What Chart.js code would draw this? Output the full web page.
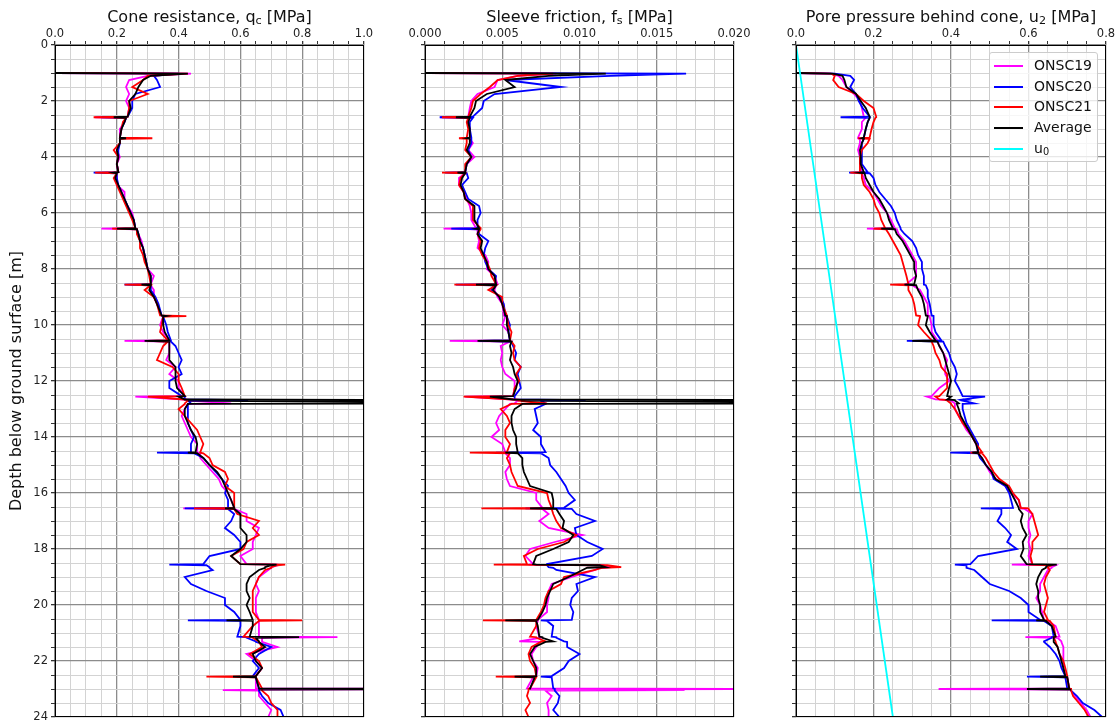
<!DOCTYPE html>
<html>
<head>
<meta charset="utf-8">
<script src="https://cdn.jsdelivr.net/npm/chart.js@4.4.1/dist/chart.umd.min.js"></script>
<style>
  body { margin: 0; background: #fff; width: 1118px; height: 720px; overflow: hidden; position: relative; font-family: "DejaVu Sans", sans-serif; }
  canvas { position: absolute; top: 0; }
  .title { position: absolute; top: 8px; font-size: 16px; line-height: 18px; color: #111; white-space: nowrap; transform: translateX(-50%); }
  .title sub, .legend sub { font-size: 70%; vertical-align: -2px; line-height: 0; }
  .legend { position: absolute; left: 989px; top: 52px; width: 107px; height: 106px; padding-top: 2px;
    background: rgba(255,255,255,0.8); border: 1px solid #cccccc; border-radius: 3px; font-size: 14px; color: #111; }
  .legend .row { height: 20.7px; line-height: 20.7px; white-space: nowrap; }
  .legend .sw { display: inline-block; width: 29px; height: 2px; margin: 0 11px 0 4px; vertical-align: middle; }
</style>
</head>
<body>
<canvas id="qcChart" width="380" height="720" style="left:0px"></canvas>
<canvas id="fsChart" width="380" height="720" style="left:370px"></canvas>
<canvas id="u2Chart" width="377" height="720" style="left:741px"></canvas>

<div class="title" style="left:209.5px">Cone resistance, q<sub>c</sub> [MPa]</div>
<div class="title" style="left:579.5px">Sleeve friction, f<sub>s</sub> [MPa]</div>
<div class="title" style="left:951px">Pore pressure behind cone, u<sub>2</sub> [MPa]</div>

<div class="legend">
  <div class="row"><span class="sw" style="background:#ff00ff"></span>ONSC19</div>
  <div class="row"><span class="sw" style="background:#0000ff"></span>ONSC20</div>
  <div class="row"><span class="sw" style="background:#ff0000"></span>ONSC21</div>
  <div class="row"><span class="sw" style="background:#000000"></span>Average</div>
  <div class="row"><span class="sw" style="background:#00ffff"></span>u<sub>0</sub></div>
</div>

<script>
// ----------- Data -----------
const depth = [
  1.0, 1.02, 1.1, 1.25, 1.5, 1.75, 2.0, 2.25, 2.56, 2.58, 2.6, 2.75,
  3.0, 3.31, 3.33, 3.35, 3.5, 3.75, 4.0, 4.25, 4.54, 4.56, 4.58, 4.75,
  5.0, 5.25, 5.5, 5.75, 6.0, 6.25, 6.54, 6.56, 6.58, 6.75,
  7.0, 7.25, 7.5, 7.75, 8.0, 8.25, 8.54, 8.56, 8.58, 8.75,
  9.0, 9.25, 9.66, 9.68, 9.7, 10.0, 10.25, 10.55, 10.57, 10.59, 10.75,
  11.0, 11.25, 11.5, 11.75, 12.0, 12.25, 12.54, 12.56, 12.66, 12.68, 12.7, 12.8, 12.82,
  13.0, 13.25, 13.5, 13.75, 14.0, 14.25, 14.54, 14.56, 14.58, 14.75,
  15.0, 15.25, 15.5, 15.75, 16.0, 16.25, 16.53, 16.55, 16.57, 16.75,
  17.0, 17.25, 17.5, 17.75, 18.0, 18.25, 18.54, 18.56, 18.58, 18.65, 18.67, 18.75,
  19.0, 19.25, 19.5, 19.75, 20.0, 20.25, 20.53, 20.55, 20.57, 20.75,
  21.13, 21.15, 21.17, 21.3, 21.32, 21.5, 21.75, 22.0, 22.25, 22.54, 22.56, 22.58, 22.98,
  23.0, 23.02, 23.04, 23.06, 23.25, 23.5, 23.75, 24.0
];

// cone resistance qc [MPa]
const qc19 = [
  0, 0.44, 0.3, 0.24, 0.23, 0.24, 0.23, 0.24, 0.235, 0.13, 0.23, 0.225,
  0.21, 0.21, 0.21, 0.21, 0.21, 0.2, 0.21, 0.2, 0.205, 0.2, 0.2, 0.2,
  0.2, 0.225, 0.225, 0.235, 0.25, 0.255, 0.26, 0.15, 0.265, 0.27,
  0.28, 0.285, 0.29, 0.295, 0.3, 0.32, 0.31, 0.29, 0.31, 0.32,
  0.32, 0.33, 0.345, 0.35, 0.35, 0.34, 0.35, 0.37, 0.225, 0.37, 0.37,
  0.37, 0.36, 0.39, 0.37, 0.4, 0.4, 0.42, 0.26, 0.42, 0.45, 0.43, 0.57, 0.43,
  0.42, 0.41, 0.42, 0.43, 0.44, 0.46, 0.46, 0.46, 0.47, 0.47,
  0.49, 0.51, 0.53, 0.54, 0.56, 0.57, 0.58, 0.415, 0.58, 0.62,
  0.62, 0.66, 0.65, 0.64, 0.64, 0.6, 0.62, 0.72, 0.72, 0.7, 0.7, 0.69,
  0.66, 0.65, 0.66, 0.65, 0.65, 0.65, 0.66, 0.66, 0.66, 0.66,
  0.66, 0.914, 0.67, 0.67, 0.67, 0.72, 0.62, 0.65, 0.67, 0.65, 0.64, 0.65, 0.65,
  1.5, 0.66, 0.543, 0.66, 0.66, 0.68, 0.7, 0.69
];
const qc20 = [
  0, 0.4, 0.32, 0.33, 0.34, 0.26, 0.25, 0.25, 0.235, 0.15, 0.23, 0.225,
  0.215, 0.21, 0.21, 0.21, 0.21, 0.205, 0.205, 0.2, 0.205, 0.125, 0.2, 0.2,
  0.205, 0.215, 0.225, 0.235, 0.245, 0.255, 0.26, 0.26, 0.265, 0.27,
  0.275, 0.285, 0.29, 0.295, 0.3, 0.31, 0.31, 0.225, 0.31, 0.31,
  0.325, 0.335, 0.345, 0.35, 0.35, 0.36, 0.365, 0.375, 0.37, 0.375, 0.39,
  0.4, 0.41, 0.4, 0.41, 0.37, 0.37, 0.41, 0.42, 0.42, 0.625, 0.43, 0.44, 0.43,
  0.43, 0.43, 0.43, 0.44, 0.45, 0.44, 0.44, 0.33, 0.45, 0.48,
  0.5, 0.52, 0.54, 0.56, 0.55, 0.56, 0.56, 0.42, 0.56, 0.58,
  0.57, 0.55, 0.58, 0.6, 0.6, 0.5, 0.48, 0.37, 0.49, 0.5, 0.5, 0.51,
  0.42, 0.44, 0.49, 0.55, 0.55, 0.58, 0.6, 0.43, 0.6, 0.6,
  0.59, 0.62, 0.62, 0.65, 0.65, 0.7, 0.66, 0.64, 0.66, 0.64, 0.64, 0.65, 0.66,
  0.66, 0.66, 0.66, 0.66, 0.67, 0.69, 0.73, 0.74
];
const qc21 = [
  0, 0.43, 0.3, 0.285, 0.25, 0.3, 0.24, 0.24, 0.235, 0.125, 0.23, 0.22,
  0.215, 0.21, 0.315, 0.21, 0.21, 0.19, 0.205, 0.2, 0.205, 0.13, 0.2, 0.19,
  0.2, 0.21, 0.22, 0.23, 0.24, 0.25, 0.26, 0.185, 0.265, 0.265,
  0.275, 0.275, 0.285, 0.29, 0.3, 0.305, 0.31, 0.225, 0.31, 0.29,
  0.32, 0.33, 0.34, 0.425, 0.35, 0.345, 0.34, 0.365, 0.3, 0.365, 0.35,
  0.34, 0.33, 0.38, 0.4, 0.4, 0.41, 0.42, 0.3, 0.42, 0.43, 0.43, 0.42, 0.42,
  0.4, 0.42, 0.44, 0.46, 0.47, 0.48, 0.47, 0.47, 0.48, 0.5,
  0.51, 0.55, 0.56, 0.55, 0.58, 0.58, 0.58, 0.45, 0.58, 0.59,
  0.66, 0.64, 0.66, 0.62, 0.61, 0.57, 0.6, 0.745, 0.72, 0.7, 0.7, 0.68,
  0.66, 0.65, 0.64, 0.64, 0.64, 0.64, 0.66, 0.8, 0.66, 0.64,
  0.61, 0.64, 0.64, 0.66, 0.66, 0.67, 0.63, 0.66, 0.67, 0.65, 0.49, 0.65, 0.67,
  0.67, 0.67, 0.67, 0.67, 0.69, 0.7, 0.72, 0.72
];
const qcAvg = [
  0, 0.43, 0.31, 0.285, 0.27, 0.26, 0.24, 0.245, 0.235, 0.19, 0.23, 0.225,
  0.215, 0.21, 0.23, 0.21, 0.21, 0.2, 0.205, 0.2, 0.205, 0.19, 0.2, 0.195,
  0.205, 0.215, 0.225, 0.235, 0.245, 0.255, 0.26, 0.2, 0.265, 0.27,
  0.275, 0.285, 0.29, 0.295, 0.3, 0.31, 0.31, 0.28, 0.31, 0.305,
  0.32, 0.33, 0.345, 0.36, 0.35, 0.35, 0.355, 0.37, 0.29, 0.37, 0.37,
  0.37, 0.37, 0.39, 0.39, 0.39, 0.395, 0.42, 0.4, 0.42, 1.5, 0.43, 1.5, 0.43,
  0.42, 0.42, 0.43, 0.44, 0.455, 0.46, 0.455, 0.43, 0.46, 0.48,
  0.5, 0.525, 0.54, 0.55, 0.56, 0.57, 0.58, 0.55, 0.58, 0.6,
  0.6, 0.6, 0.62, 0.62, 0.6, 0.57, 0.6, 0.717, 0.7, 0.68, 0.68, 0.66,
  0.63, 0.62, 0.62, 0.63, 0.62, 0.63, 0.64, 0.555, 0.64, 0.64,
  0.63, 0.79, 0.65, 0.66, 0.66, 0.68, 0.64, 0.65, 0.67, 0.65, 0.576, 0.65, 0.66,
  1.5, 0.66, null, null, null, null, null, null
];

// sleeve friction fs [MPa]
const fs19 = [
  0, 0.0085, 0.006, 0.0047, 0.0045, 0.0034, 0.003, 0.0029, 0.0028, 0.001, 0.0029, 0.0028,
  0.0029, 0.0029, 0.0029, 0.0029, 0.0031, 0.0028, 0.0032, 0.0027, 0.0026, 0.0024, 0.0026, 0.0022,
  0.0022, 0.0025, 0.0027, 0.0029, 0.003, 0.003, 0.0033, 0.0012, 0.0034, 0.0034,
  0.0035, 0.0034, 0.0039, 0.0041, 0.004, 0.0045, 0.0047, 0.0046, 0.0046, 0.0045,
  0.0047, 0.005, 0.0051, 0.0052, 0.0052, 0.005, 0.0054, 0.0055, 0.0016, 0.0055, 0.0049,
  0.005, 0.0049, 0.005, 0.0052, 0.0058, 0.0058, 0.0057, 0.0026, 0.0057, 0.0063, 0.006, 0.0058, 0.0055,
  0.0052, 0.0048, 0.0046, 0.0048, 0.0043, 0.005, 0.0052, 0.0052, 0.0052, 0.0055,
  0.0055, 0.0052, 0.0053, 0.0055, 0.0072, 0.0072, 0.0076, 0.0076, 0.0076, 0.008,
  0.0074, 0.008, 0.0102, 0.0084, 0.0068, 0.0065, 0.007, 0.0067, 0.0115, 0.012, 0.0113, 0.011,
  0.0095, 0.0082, 0.008, 0.008, 0.0079, 0.0079, 0.0073, 0.0073, 0.0073, 0.0072,
  0.0074, 0.0075, 0.0075, 0.0061, 0.0074, 0.0072, 0.0069, 0.007, 0.0073, 0.0072, 0.007, 0.007, 0.0066,
  0.025, 0.0068, 0.0168, 0.0078, 0.0082, 0.0079, 0.008, 0.008
];
const fs20 = [
  0, 0.0169, 0.012, 0.0052, 0.0088, 0.0045, 0.0038, 0.0037, 0.0031, 0.00095, 0.0031, 0.0029,
  0.0029, 0.003, 0.003, 0.003, 0.003, 0.0028, 0.003, 0.0027, 0.0026, 0.0013, 0.0027, 0.0028,
  0.0024, 0.0026, 0.0028, 0.0035, 0.0036, 0.0034, 0.0034, 0.0017, 0.0035, 0.0035,
  0.0041, 0.0039, 0.0038, 0.0039, 0.0041, 0.0046, 0.0045, 0.002, 0.0045, 0.0043,
  0.0049, 0.0051, 0.0052, 0.0053, 0.0053, 0.0055, 0.0054, 0.0055, 0.0035, 0.0056, 0.0057,
  0.0059, 0.0058, 0.0062, 0.006, 0.0061, 0.0062, 0.0058, 0.0058, 0.0058, 0.0104, 0.0075, 0.0078, 0.0078,
  0.0071, 0.0072, 0.0073, 0.007, 0.0075, 0.0075, 0.0078, 0.0046, 0.0075, 0.008,
  0.0081, 0.0085, 0.0088, 0.0091, 0.0093, 0.0097, 0.009, 0.0065, 0.0095, 0.0098,
  0.011, 0.0097, 0.0098, 0.0105, 0.0115, 0.0108, 0.0079, 0.0079, 0.0079, 0.008, 0.0083, 0.0085,
  0.011, 0.0098, 0.0099, 0.0095, 0.0094, 0.0096, 0.0095, 0.0075, 0.0079, 0.0083,
  0.0082, 0.0085, 0.0085, 0.009, 0.0092, 0.0092, 0.01, 0.0093, 0.009, 0.0082, 0.0075, 0.0082, 0.0083,
  0.0084, 0.0084, 0.0084, 0.0084, 0.0087, 0.0086, 0.0083, 0.0087
];
const fs21 = [
  0, 0.0083, 0.006, 0.0047, 0.0042, 0.0036, 0.0031, 0.003, 0.0028, 0.0011, 0.0028, 0.0027,
  0.0028, 0.0027, 0.0022, 0.0027, 0.0027, 0.0026, 0.003, 0.0026, 0.0026, 0.0011, 0.0026, 0.0023,
  0.0022, 0.0025, 0.0026, 0.0031, 0.0031, 0.0031, 0.0036, 0.0036, 0.0036, 0.0034,
  0.0036, 0.0035, 0.0037, 0.004, 0.0042, 0.0043, 0.0046, 0.0019, 0.0046, 0.0041,
  0.005, 0.005, 0.0053, 0.0053, 0.0053, 0.0054, 0.0056, 0.0055, 0.0055, 0.0056, 0.0058,
  0.0057, 0.0058, 0.0062, 0.0059, 0.0061, 0.0058, 0.0057, 0.0025, 0.0057, 0.0065, 0.006, 0.0079, 0.0056,
  0.0049, 0.0053, 0.0055, 0.0052, 0.0052, 0.0055, 0.0053, 0.0029, 0.0055, 0.0053,
  0.0055, 0.0056, 0.0058, 0.006, 0.0079, 0.008, 0.0082, 0.00365, 0.0082, 0.0083,
  0.0085, 0.0088, 0.0098, 0.009, 0.0073, 0.0064, 0.0066, 0.00445, 0.0118, 0.0127, 0.0115, 0.011,
  0.009, 0.0088, 0.008, 0.0078, 0.0077, 0.0075, 0.0072, 0.00375, 0.0072, 0.0072,
  0.0068, 0.0072, 0.0072, 0.0078, 0.0075, 0.0069, 0.0067, 0.0068, 0.0071, 0.0072, 0.00458, 0.0072, 0.0068,
  0.0067, 0.0067, 0.0067, 0.0067, 0.0066, 0.0068, 0.0065, 0.0067
];
const fsAvg = [
  0, 0.0117, 0.008, 0.0052, 0.0058, 0.004, 0.0033, 0.0032, 0.0029, 0.002, 0.0029, 0.0028,
  0.0029, 0.0029, 0.0027, 0.0029, 0.0029, 0.0027, 0.003, 0.0027, 0.0026, 0.0021, 0.0026, 0.0024,
  0.0023, 0.0025, 0.0026, 0.0032, 0.0032, 0.0032, 0.0035, 0.0033, 0.0035, 0.0034,
  0.0037, 0.0036, 0.0038, 0.004, 0.0041, 0.0045, 0.0046, 0.0033, 0.0046, 0.0044,
  0.0048, 0.005, 0.0052, 0.0053, 0.0053, 0.0053, 0.0054, 0.0055, 0.0034, 0.0056, 0.0055,
  0.0056, 0.0055, 0.0057, 0.0058, 0.006, 0.0059, 0.0057, 0.0042, 0.0057, 0.03, 0.0062, 0.03, 0.0063,
  0.0058, 0.0056, 0.0056, 0.0057, 0.0059, 0.0059, 0.006, 0.0052, 0.006, 0.0063,
  0.0063, 0.0064, 0.0066, 0.0068, 0.0082, 0.0083, 0.0083, 0.0068, 0.0085, 0.0087,
  0.009, 0.0089, 0.0096, 0.0093, 0.0083, 0.0072, 0.007, 0.0072, 0.0113, 0.0117, 0.0105, 0.0102,
  0.0093, 0.0083, 0.0081, 0.0079, 0.0078, 0.0076, 0.0073, 0.0052, 0.0072, 0.0073,
  0.0074, 0.0076, 0.0076, 0.0083, 0.0078, 0.0071, 0.0068, 0.007, 0.0072, 0.0072, 0.0058, 0.0071, 0.0068,
  0.0068, 0.0068, null, null, null, null, null, null
];

// pore pressure u2 [MPa]
const u19 = [
  0, 0.09, 0.11, 0.12, 0.13, 0.15, 0.165, 0.17, 0.175, 0.175, 0.18, 0.17,
  0.17, 0.16, 0.16, 0.165, 0.165, 0.16, 0.165, 0.165, 0.17, 0.17, 0.17, 0.175,
  0.18, 0.2, 0.21, 0.22, 0.235, 0.245, 0.255, 0.183, 0.26, 0.265,
  0.28, 0.29, 0.3, 0.31, 0.31, 0.31, 0.285, 0.28, 0.3, 0.32,
  0.33, 0.34, 0.34, 0.345, 0.345, 0.35, 0.35, 0.365, 0.365, 0.365, 0.37,
  0.38, 0.39, 0.385, 0.385, 0.395, 0.37, 0.35, 0.338, 0.36, 0.4, 0.4, 0.41, 0.41,
  0.41, 0.42, 0.43, 0.44, 0.455, 0.465, 0.47, 0.47, 0.47, 0.48,
  0.49, 0.5, 0.515, 0.54, 0.555, 0.575, 0.58, 0.58, 0.59, 0.61,
  0.6, 0.6, 0.605, 0.6, 0.605, 0.6, 0.61, 0.557, 0.67, 0.66, 0.66, 0.65,
  0.64, 0.63, 0.63, 0.62, 0.63, 0.635, 0.64, 0.64, 0.65, 0.67,
  0.68, 0.592, 0.675, 0.685, 0.685, 0.69, 0.69, 0.69, 0.69, 0.695, 0.695, 0.7, 0.705,
  0.368, 0.71, 0.71, 0.71, 0.72, 0.735, 0.75, 0.76
];
const u20 = [
  0, 0.1, 0.14, 0.15, 0.14, 0.155, 0.162, 0.172, 0.19, 0.115, 0.19, 0.185,
  0.18, 0.175, 0.175, 0.175, 0.17, 0.17, 0.17, 0.17, 0.185, 0.137, 0.19, 0.2,
  0.205, 0.215, 0.23, 0.245, 0.255, 0.26, 0.27, 0.27, 0.27, 0.28,
  0.3, 0.31, 0.315, 0.325, 0.325, 0.33, 0.33, 0.33, 0.335, 0.34,
  0.34, 0.345, 0.35, 0.355, 0.355, 0.355, 0.36, 0.375, 0.286, 0.38, 0.385,
  0.395, 0.4, 0.41, 0.415, 0.41, 0.42, 0.43, 0.488, 0.43, 0.44, 0.43, 0.46, 0.43,
  0.43, 0.435, 0.44, 0.45, 0.46, 0.47, 0.47, 0.398, 0.47, 0.475,
  0.49, 0.505, 0.51, 0.54, 0.55, 0.555, 0.56, 0.477, 0.53, 0.53,
  0.52, 0.54, 0.555, 0.545, 0.57, 0.47, 0.45, 0.41, 0.44, 0.44, 0.44, 0.46,
  0.48, 0.5, 0.55, 0.58, 0.6, 0.6, 0.63, 0.505, 0.64, 0.66,
  0.665, 0.66, 0.66, 0.64, 0.64, 0.655, 0.67, 0.68, 0.685, 0.695, 0.596, 0.695, 0.7,
  0.71, 0.71, 0.71, 0.71, 0.725, 0.74, 0.77, 0.79
];
const u21 = [
  0, 0.09, 0.1, 0.096, 0.11, 0.155, 0.175, 0.2, 0.207, 0.207, 0.205, 0.2,
  0.195, 0.19, 0.16, 0.19, 0.185, 0.17, 0.165, 0.165, 0.165, 0.14, 0.17, 0.17,
  0.175, 0.19, 0.2, 0.205, 0.215, 0.22, 0.23, 0.2, 0.232, 0.24,
  0.25, 0.26, 0.27, 0.275, 0.28, 0.285, 0.29, 0.243, 0.29, 0.29,
  0.3, 0.305, 0.31, 0.32, 0.32, 0.315, 0.33, 0.35, 0.35, 0.35, 0.355,
  0.36, 0.37, 0.375, 0.39, 0.39, 0.39, 0.37, 0.36, 0.37, 0.39, 0.39, 0.4, 0.4,
  0.41, 0.42, 0.43, 0.445, 0.455, 0.465, 0.48, 0.45, 0.48, 0.49,
  0.5, 0.51, 0.525, 0.55, 0.56, 0.575, 0.58, 0.6, 0.6, 0.61,
  0.615, 0.62, 0.625, 0.61, 0.61, 0.605, 0.61, 0.6, 0.66, 0.65, 0.65, 0.655,
  0.645, 0.64, 0.645, 0.65, 0.645, 0.64, 0.65, 0.64, 0.655, 0.665,
  0.67, 0.665, 0.665, 0.67, 0.67, 0.675, 0.68, 0.69, 0.695, 0.7, 0.7, 0.7, 0.705,
  0.71, 0.71, 0.71, 0.71, 0.715, 0.73, 0.745, 0.755
];
const uAvg = [
  0, 0.095, 0.12, 0.125, 0.13, 0.155, 0.167, 0.18, 0.19, 0.19, 0.19, 0.185,
  0.18, 0.175, 0.17, 0.175, 0.17, 0.165, 0.167, 0.167, 0.175, 0.165, 0.177, 0.18,
  0.19, 0.2, 0.215, 0.225, 0.235, 0.24, 0.25, 0.22, 0.255, 0.26,
  0.275, 0.285, 0.295, 0.305, 0.305, 0.31, 0.305, 0.28, 0.31, 0.315,
  0.325, 0.33, 0.335, 0.34, 0.34, 0.335, 0.345, 0.36, 0.3, 0.365, 0.37,
  0.38, 0.385, 0.39, 0.395, 0.4, 0.395, 0.39, 0.4, 0.39, 0.41, 0.41, 0.42, 0.415,
  0.42, 0.425, 0.435, 0.445, 0.455, 0.465, 0.47, 0.455, 0.47, 0.48,
  0.49, 0.505, 0.515, 0.545, 0.555, 0.565, 0.575, 0.575, 0.575, 0.585,
  0.58, 0.585, 0.595, 0.585, 0.587, 0.58, 0.595, 0.673, 0.65, 0.645, 0.645, 0.635,
  0.625, 0.62, 0.625, 0.625, 0.63, 0.63, 0.64, 0.62, 0.645, 0.66,
  0.67, 0.665, 0.665, 0.665, 0.665, 0.675, 0.68, 0.685, 0.69, 0.695, 0.63, 0.7, 0.705,
  0.596, 0.71, null, null, null, null, null, null
];

// hydrostatic pore pressure
const u0Depth = [0, 24];
const u0 = [0, 0.25];

// labelled (major) ticks
const depthMajor = [0, 2, 4, 6, 8, 10, 12, 14, 16, 18, 20, 22, 24];
const qcMajor = [0, 0.2, 0.4, 0.6, 0.8, 1.0];
const fsMajor = [0, 0.005, 0.01, 0.015, 0.02];
const u2Major = [0, 0.2, 0.4, 0.6, 0.8];

const FONT = "DejaVu Sans";
const MAJOR_GRID = "#8c8c8c";
const MINOR_GRID = "#d3d3d3";

function isMajor(v, list) {
  return list.some(m => Math.abs(m - v) < 1e-9);
}

function pts(values, d) {
  const out = [];
  values.forEach((v, i) => { if (v !== null) out.push({ x: v, y: d[i] }); });
  return out;
}

// black frame round the plot area, like matplotlib spines
const framePlugin = {
  id: "frame",
  afterDatasetsDraw(chart) {
    const { ctx, chartArea: a } = chart;
    ctx.save();
    ctx.strokeStyle = "#000";
    ctx.lineWidth = 1;
    const l = Math.round(a.left) + 0.5, t = Math.round(a.top) + 0.5;
    const r = Math.round(a.right) - 0.5, b = Math.round(a.bottom) - 0.5;
    ctx.strokeRect(l, t, r - l, b - t);
    ctx.restore();
  }
};

function profileChart(id, o) {
  const datasets = o.series.map(s => ({
    label: s.label,
    data: s.data,
    borderColor: s.color,
    backgroundColor: s.color,
    borderWidth: 1.8,
    showLine: true,
    pointRadius: 0,
    pointHoverRadius: 0,
    tension: 0,
    order: s.order,
  }));

  return new Chart(document.getElementById(id), {
    type: "scatter",
    data: { datasets },
    options: {
      responsive: false,
      animation: false,
      events: [],
      layout: { padding: { left: 0, right: o.rightPad, top: 0, bottom: 3 } },
      plugins: { legend: { display: false }, tooltip: { enabled: false } },
      scales: {
        x: {
          type: "linear",
          position: "top",
          min: 0,
          max: o.xMax,
          ticks: {
            stepSize: o.xStep,
            autoSkip: false,
            maxRotation: 0,
            padding: 0,
            color: "#222",
            font: { family: FONT, size: 11.5 },
            callback: v => (isMajor(v, o.xMajor) ? v.toFixed(o.xDigits) : ""),
          },
          grid: {
            color: c => (isMajor(c.tick.value, o.xMajor) ? MAJOR_GRID : MINOR_GRID),
            lineWidth: c => (isMajor(c.tick.value, o.xMajor) ? 1.3 : 1),
            tickColor: "#333",
            tickLength: 4,
          },
          border: { display: false },
          afterFit: s => { s.height = 45; s.paddingLeft = 0; s.paddingRight = 0; },
        },
        y: {
          type: "linear",
          reverse: true,
          min: 0,
          max: 24,
          ticks: {
            stepSize: 0.5,
            autoSkip: false,
            padding: 3,
            color: "#222",
            font: { family: FONT, size: 11.5 },
            callback: v => (o.depthLabels && isMajor(v, depthMajor) ? String(v) : ""),
          },
          grid: {
            color: c => (isMajor(c.tick.value, depthMajor) ? MAJOR_GRID : MINOR_GRID),
            lineWidth: c => (isMajor(c.tick.value, depthMajor) ? 1.3 : 1),
            tickColor: "#333",
            tickLength: 4,
          },
          border: { display: false },
          title: {
            display: o.depthLabels,
            text: "Depth below ground surface [m]",
            color: "#111",
            font: { family: FONT, size: 16 },
            padding: { top: 7, bottom: 0 },
          },
          afterFit: s => { s.width = 55; s.paddingTop = 0; s.paddingBottom = 0; },
        },
      },
    },
    plugins: [framePlugin],
  });
}

const colors = { s19: "#ff00ff", s20: "#0000ff", s21: "#ff0000", avg: "#000000", u0: "#00ffff" };

profileChart("qcChart", {
  xMax: 1.0, xStep: 0.05, xMajor: qcMajor, xDigits: 1, depthLabels: true, rightPad: 16,
  series: [
    { label: "ONSC19", data: pts(qc19, depth), color: colors.s19, order: 5 },
    { label: "ONSC20", data: pts(qc20, depth), color: colors.s20, order: 4 },
    { label: "ONSC21", data: pts(qc21, depth), color: colors.s21, order: 3 },
    { label: "Average", data: pts(qcAvg, depth), color: colors.avg, order: 2 },
  ],
});

profileChart("fsChart", {
  xMax: 0.02, xStep: 0.00125, xMajor: fsMajor, xDigits: 3, depthLabels: false, rightPad: 16,
  series: [
    { label: "ONSC19", data: pts(fs19, depth), color: colors.s19, order: 5 },
    { label: "ONSC20", data: pts(fs20, depth), color: colors.s20, order: 4 },
    { label: "ONSC21", data: pts(fs21, depth), color: colors.s21, order: 3 },
    { label: "Average", data: pts(fsAvg, depth), color: colors.avg, order: 2 },
  ],
});

profileChart("u2Chart", {
  xMax: 0.8, xStep: 0.05, xMajor: u2Major, xDigits: 1, depthLabels: false, rightPad: 12,
  series: [
    { label: "ONSC19", data: pts(u19, depth), color: colors.s19, order: 5 },
    { label: "ONSC20", data: pts(u20, depth), color: colors.s20, order: 4 },
    { label: "ONSC21", data: pts(u21, depth), color: colors.s21, order: 3 },
    { label: "Average", data: pts(uAvg, depth), color: colors.avg, order: 2 },
    { label: "u0", data: pts(u0, u0Depth), color: colors.u0, order: 1 },
  ],
});
</script>
</body>
</html>
